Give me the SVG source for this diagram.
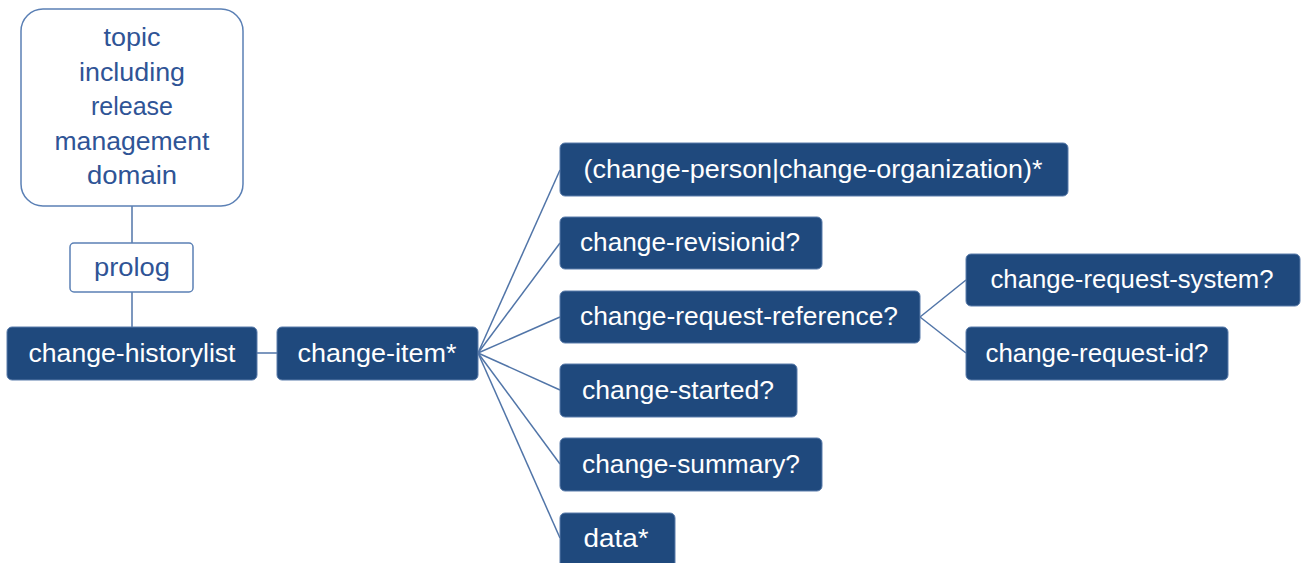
<svg xmlns="http://www.w3.org/2000/svg" width="1301" height="563" viewBox="0 0 1301 563">
<style>
.dark rect{fill:#1f497d;stroke:#5a7cab;stroke-width:1}
.dark text{fill:#ffffff}
.light rect{fill:#ffffff;stroke:#5b80b5;stroke-width:1.5}
.light text{fill:#2f5496}
text{font-family:"Liberation Sans",Arial,sans-serif;font-size:25px;text-anchor:middle}
.conn line{stroke:#5175a8;stroke-width:1.5}
</style>
<rect width="1301" height="563" fill="#ffffff"/>
<g class="conn">
<line x1="132" y1="206" x2="132" y2="243"/>
<line x1="132" y1="292" x2="132" y2="327"/>
<line x1="257" y1="353" x2="277" y2="353"/>
<line x1="478" y1="353" x2="560" y2="170"/>
<line x1="478" y1="353" x2="560" y2="243"/>
<line x1="478" y1="353" x2="560" y2="317"/>
<line x1="478" y1="353" x2="560" y2="390"/>
<line x1="478" y1="353" x2="560" y2="464"/>
<line x1="478" y1="353" x2="560" y2="538"/>
<line x1="920" y1="317" x2="966" y2="280"/>
<line x1="920" y1="317" x2="966" y2="353"/>
</g>
<g id="topic" class="light">
<rect x="21" y="9" width="222" height="197" rx="22"/>
<text x="132" y="46" textLength="57" lengthAdjust="spacingAndGlyphs">topic</text>
<text x="132" y="81" textLength="106" lengthAdjust="spacingAndGlyphs">including</text>
<text x="132" y="115" textLength="82" lengthAdjust="spacingAndGlyphs">release</text>
<text x="132" y="150" textLength="155" lengthAdjust="spacingAndGlyphs">management</text>
<text x="132" y="184" textLength="90" lengthAdjust="spacingAndGlyphs">domain</text>
</g>
<g id="prolog" class="light">
<rect x="70" y="243" width="123" height="49" rx="4"/>
<text x="132" y="276" textLength="76" lengthAdjust="spacingAndGlyphs">prolog</text>
</g>
<g id="historylist" class="dark">
<rect x="7" y="327" width="250" height="53" rx="5"/>
<text x="132" y="362" textLength="207" lengthAdjust="spacingAndGlyphs">change-historylist</text>
</g>
<g id="item" class="dark">
<rect x="277" y="327" width="201" height="53" rx="5"/>
<text x="377" y="362" textLength="159" lengthAdjust="spacingAndGlyphs">change-item*</text>
</g>
<g id="person" class="dark">
<rect x="560" y="143" width="508" height="53" rx="5"/>
<text x="813" y="178" textLength="459" lengthAdjust="spacingAndGlyphs">(change-person|change-organization)*</text>
</g>
<g id="revisionid" class="dark">
<rect x="560" y="217" width="262" height="52" rx="5"/>
<text x="690" y="251" textLength="220" lengthAdjust="spacingAndGlyphs">change-revisionid?</text>
</g>
<g id="reference" class="dark">
<rect x="560" y="291" width="360" height="52" rx="5"/>
<text x="739" y="325" textLength="318" lengthAdjust="spacingAndGlyphs">change-request-reference?</text>
</g>
<g id="started" class="dark">
<rect x="560" y="364" width="237" height="53" rx="5"/>
<text x="678" y="399" textLength="192" lengthAdjust="spacingAndGlyphs">change-started?</text>
</g>
<g id="summary" class="dark">
<rect x="560" y="438" width="262" height="53" rx="5"/>
<text x="691" y="473" textLength="218" lengthAdjust="spacingAndGlyphs">change-summary?</text>
</g>
<g id="data" class="dark">
<rect x="560" y="513" width="115" height="56" rx="5"/>
<text x="616" y="547" textLength="65" lengthAdjust="spacingAndGlyphs">data*</text>
</g>
<g id="system" class="dark">
<rect x="966" y="254" width="334" height="52" rx="5"/>
<text x="1132" y="288" textLength="283" lengthAdjust="spacingAndGlyphs">change-request-system?</text>
</g>
<g id="requestid" class="dark">
<rect x="966" y="327" width="262" height="53" rx="5"/>
<text x="1097" y="362" textLength="223" lengthAdjust="spacingAndGlyphs">change-request-id?</text>
</g>
</svg>
